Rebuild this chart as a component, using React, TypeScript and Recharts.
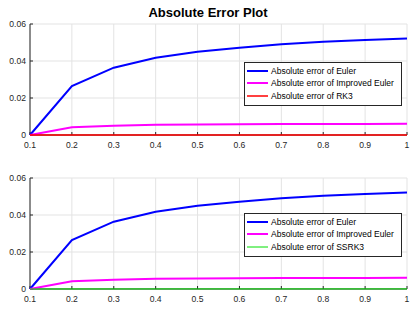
import React from "react";
import { CartesianGrid, Legend, Line, LineChart, XAxis, YAxis } from "recharts";

const xs = [0.1, 0.2, 0.3, 0.4, 0.5, 0.6, 0.7, 0.8, 0.9, 1];
const euler = [0, 0.0264, 0.0364, 0.0417, 0.045, 0.0472, 0.049, 0.0504, 0.0514, 0.0522];
const improved = [0, 0.0042, 0.005, 0.0055, 0.0057, 0.0058, 0.0059, 0.006, 0.006, 0.0061];
const rk3 = [0, 0.00003, 0.00004, 0.00004, 0.00005, 0.00005, 0.00005, 0.00005, 0.00005, 0.00005];
const ssrk3 = [0, 0.00003, 0.00004, 0.00004, 0.00005, 0.00005, 0.00005, 0.00005, 0.00005, 0.00005];
const xTicks = [0.1, 0.2, 0.3, 0.4, 0.5, 0.6, 0.7, 0.8, 0.9, 1];
const yTicks = [0, 0.02, 0.04, 0.06];

const font = "'Liberation Sans', Arial, sans-serif";
const axisColor = "#262626";

type Series = { key: string; name: string; color: string; width: number; values: number[] };

const LegendBox = (props: any) => {
  const widths: Record<string, number> = props.widths;
  return (
    <div
      style={{
        border: "1px solid #262626",
        background: "#fff",
        padding: "2px 0 3px 0",
        fontFamily: font,
        fontSize: 8.5,
        color: "#000",
      }}
    >
      {(props.payload || []).map((p: any) => (
        <div key={p.value} style={{ display: "flex", alignItems: "center", height: 12.3 }}>
          <svg width={21} height={4} style={{ marginLeft: 2, marginRight: 3 }}>
            <line x1={0} y1={2} x2={21} y2={2} stroke={p.color} strokeWidth={widths[p.value] || 1} />
          </svg>
          <span style={{ whiteSpace: "nowrap" }}>{p.value}</span>
        </div>
      ))}
    </div>
  );
};

function Panel({ series, height, top, bottom, legendTop }: { series: Series[]; height: number; top: number; bottom: number; legendTop: number }) {
  const data = xs.map((x, i) => {
    const row: any = { x };
    series.forEach((s) => (row[s.key] = s.values[i]));
    return row;
  });
  const widths: Record<string, number> = {};
  series.forEach((s) => (widths[s.name] = s.width));
  const tickStyle = { fontFamily: font, fontSize: 8.6, fill: axisColor };
  return (
    <LineChart width={416} height={height} data={data} margin={{ top, right: 9, bottom, left: 0 }}>
      <CartesianGrid stroke="#e3e3e3" />
      <XAxis
        dataKey="x"
        type="number"
        domain={[0.1, 1]}
        ticks={xTicks}
        tickFormatter={(v: number) => String(+v.toFixed(1))}
        height={20}
        stroke={axisColor}
        tickSize={-3}
        tickMargin={10}
        tick={tickStyle}
        interval={0}
      />
      <XAxis xAxisId="top" orientation="top" dataKey="x" type="number" domain={[0.1, 1]} ticks={xTicks} height={0} stroke={axisColor} tickSize={-3} tick={false} />
      <YAxis
        type="number"
        domain={[0, 0.06]}
        ticks={yTicks}
        tickFormatter={(v: number) => String(+v.toFixed(2))}
        width={30}
        stroke={axisColor}
        tickSize={-3}
        tickMargin={7}
        tick={tickStyle}
        interval={0}
      />
      <YAxis yAxisId="right" orientation="right" type="number" domain={[0, 0.06]} ticks={yTicks} width={0} stroke={axisColor} tickSize={-3} tick={false} />
      {series.map((s) => (
        <Line
          key={s.key}
          dataKey={s.key}
          name={s.name}
          stroke={s.color}
          strokeWidth={s.width}
          dot={false}
          activeDot={false}
          type="linear"
          isAnimationActive={false}
          zIndex={700}
        />
      ))}
      <Legend
        layout="vertical"
        align="center"
        verticalAlign="middle"
        content={(p: any) => <LegendBox {...p} widths={widths} />}
        wrapperStyle={{ position: "absolute", left: 244, top: legendTop, width: 158, height: "auto" }}
      />
    </LineChart>
  );
}

export default function App() {
  const top: Series[] = [
    { key: "e", name: "Absolute error of Euler", color: "#0000ff", width: 2, values: euler },
    { key: "i", name: "Absolute error of Improved Euler", color: "#ff00ff", width: 2, values: improved },
    { key: "r", name: "Absolute error of RK3", color: "#ff0000", width: 1.5, values: rk3 },
  ];
  const bottom: Series[] = [
    { key: "e", name: "Absolute error of Euler", color: "#0000ff", width: 2, values: euler },
    { key: "i", name: "Absolute error of Improved Euler", color: "#ff00ff", width: 2, values: improved },
    { key: "s", name: "Absolute error of SSRK3", color: "#00e000", width: 1, values: ssrk3 },
  ];
  return (
    <div style={{ position: "absolute", left: 0, top: 0, width: 416, height: 313, background: "#fff" }}>
      <div
        style={{
          position: "absolute",
          left: 0,
          width: 416,
          top: 5,
          textAlign: "center",
          fontFamily: font,
          fontWeight: "bold",
          fontSize: 13,
          color: "#000",
        }}
      >
        Absolute Error Plot
      </div>
      <div style={{ position: "absolute", left: 0, top: 0 }}>
        <Panel series={top} height={160} top={24} bottom={5} legendTop={62} />
      </div>
      <div style={{ position: "absolute", left: 0, top: 160 }}>
        <Panel series={bottom} height={153} top={18} bottom={4} legendTop={53} />
      </div>
    </div>
  );
}
